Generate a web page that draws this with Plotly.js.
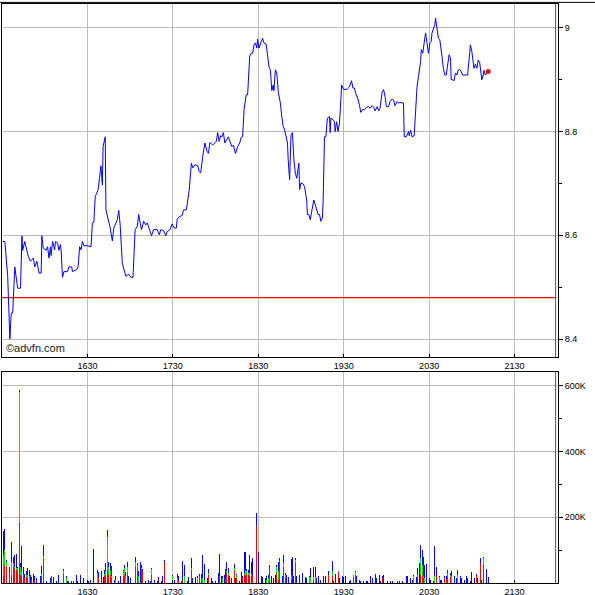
<!DOCTYPE html>
<html>
<head>
<meta charset="utf-8">
<script src="https://cdn.plot.ly/plotly-3.0.1.min.js"></script>
<style>
  html, body { margin: 0; padding: 0; background: #fff; }
  #chart { width: 595px; height: 595px; }
</style>
</head>
<body>
<div id="chart"></div>
<script>
// Intraday session: trades from the 15:30 open, times given as minutes after the open.
const sessionDay = '2000-01-03';
const sessionOpen = '15:30';
const sessionLengthMinutes = 390.5;

// Price path (minutes after open, price)
const priceMinutes = [
  0.5,2,4,5.5,6.5,7.5,9,11,13,14,
  14.5,16,18.5,20,22,23,24.5,26,27.5,28,
  29,31,32,33,34,34.5,35.5,37,37.5,39,
  40,41,41.5,42.5,43.5,46,47,49,49.5,52.5,
  53.5,54.5,55.5,56.5,57.5,60,62.5,63.5,64.5,65.5,
  66.5,67.5,69.5,70.5,71,72.5,73,75,76,77.5,
  78.5,80,81,82,83,84.5,86,87,89,90.5,
  92,93,93.5,95,96,97,98,99.5,101,102,
  103.5,105,106.5,109,110.5,111.5,113.5,115,116,118,
  119.5,121,122.5,123,124.5,126.5,127.5,129.5,130.5,131.5,
  133,134,135.5,137.5,138.5,139.5,141,142.5,144,145,
  146,148,150.5,151.5,152.5,153.5,154.5,155.5,156.5,158,
  159,160.5,161.5,162.5,164,165.5,167,168,169,170,
  171.5,172.5,174,175,176,177,178,179,179.5,180.5,
  182,183,184,185.5,186.5,187.5,188.5,189.5,190.5,191,
  192,193,194,195.5,196.5,197.5,198.5,199.5,200.5,201,
  202,203,204,205,206,207,208.5,209,210,211.5,
  212.5,214,214.5,215.5,216.5,217.5,219,220,221,222,
  223,224,225,225.5,226.5,227.5,228.5,230,230.5,231,
  232.5,233.5,234,235,236,237,238,238.5,240,242.5,
  244,245.5,246.5,247.5,249,249.5,251,252,253.5,254.5,
  256,257.5,258.5,260,261,262,263.5,264.5,265.5,267,
  268,269,270,271.5,272.5,274,275,276,277.5,278.5,
  279.5,282,282.5,284,285.5,286,287,288,289.5,290.5,
  291.5,292.5,294,294.5,295.5,296.5,297.5,298.5,299.5,300.5,
  301.5,302,303,304,304.5,305.5,306.5,307.5,308.5,309,
  310,311,312,313,314,315,315.5,316.5,317.5,318.5,
  319.5,320.5,321.5,322.5,323.5,327,328,329,330,331,
  331.5,332.5,333.5,334.5,335.5,336.5,337,338,338.5,339.5,
  340.5,341.5
];
const prices = [
  8.588,8.588,8.521,8.400,8.450,8.450,8.539,8.498,8.498,8.599,
  8.571,8.588,8.559,8.550,8.556,8.539,8.550,8.527,8.527,8.599,
  8.575,8.571,8.578,8.556,8.578,8.561,8.588,8.572,8.588,8.586,
  8.571,8.582,8.572,8.519,8.530,8.530,8.539,8.539,8.530,8.534,
  8.540,8.578,8.572,8.588,8.580,8.580,8.578,8.624,8.625,8.675,
  8.681,8.688,8.734,8.697,8.771,8.790,8.649,8.627,8.614,8.589,
  8.614,8.624,8.630,8.648,8.620,8.546,8.530,8.521,8.525,8.519,
  8.519,8.566,8.611,8.617,8.640,8.624,8.611,8.627,8.620,8.624,
  8.611,8.599,8.611,8.611,8.601,8.611,8.609,8.599,8.607,8.611,
  8.622,8.614,8.614,8.631,8.636,8.638,8.649,8.649,8.668,8.688,
  8.739,8.730,8.736,8.734,8.723,8.720,8.752,8.778,8.762,8.758,
  8.779,8.774,8.781,8.798,8.781,8.792,8.790,8.798,8.778,8.785,
  8.790,8.778,8.771,8.774,8.758,8.771,8.778,8.789,8.790,8.842,
  8.871,8.871,8.946,8.951,8.951,8.967,8.971,8.961,8.978,8.961,
  8.974,8.980,8.971,8.969,8.948,8.925,8.919,8.879,8.890,8.879,
  8.919,8.913,8.877,8.855,8.829,8.810,8.803,8.787,8.778,8.746,
  8.707,8.794,8.798,8.746,8.720,8.710,8.739,8.688,8.701,8.699,
  8.694,8.668,8.640,8.640,8.630,8.646,8.668,8.659,8.649,8.640,
  8.640,8.627,8.633,8.662,8.790,8.790,8.826,8.829,8.798,8.826,
  8.823,8.819,8.800,8.819,8.800,8.816,8.861,8.890,8.881,8.882,
  8.886,8.898,8.884,8.884,8.868,8.868,8.852,8.837,8.843,8.842,
  8.847,8.848,8.845,8.850,8.847,8.840,8.848,8.840,8.845,8.877,
  8.881,8.868,8.848,8.848,8.858,8.863,8.861,8.850,8.858,8.855,
  8.856,8.855,8.790,8.790,8.800,8.792,8.803,8.790,8.792,8.836,
  8.887,8.906,8.935,8.958,8.951,8.971,8.990,8.971,8.951,8.971,
  8.974,8.990,8.999,9.006,9.019,8.999,8.980,8.977,8.961,8.945,
  8.922,8.909,8.909,8.925,8.948,8.942,8.900,8.900,8.898,8.913,
  8.909,8.919,8.920,8.916,8.909,8.909,8.938,8.967,8.954,8.935,
  8.922,8.930,8.922,8.938,8.933,8.911,8.900,8.909,8.918,8.909,
  8.914,8.916
];
const previousClose = 8.48;

// Volume per minute, in thousands of shares, split into three trade groups
const volumeMinutes = [
  1,2,3,5,7,8,9,10,11,12, 13,14,15,16,17,18,19,20,21,22,
  23,24,26,27,28,29,31,33,34,35, 36,38,40,43,45,46,47,49,50,52,
  53,55,57,59,61,62,64,66,67,68, 70,71,72,73,74,75,76,77,79,80,
  82,83,85,86,87,88,89,90,92,94, 95,96,97,98,99,101,103,104,105,107,
  109,110,112,113,114,
  118,120,121,123,124,126,127,128,130,131, 133,134,136,137,139,140,141,142,144,145,
  147,148,150,152,153,154,155,156,157,158, 159,160,161,163,164,165,167,168,169,170,
  171,172,173,174,175,176,177,179,180,182, 183,184,185,186,187,188,189,191,192,193,
  194,195,197,198,199,200,201,203,204,205, 206,207,209,210,211,213,214,216,217,219,
  220,221,222,224,226,227,229,
  232,233,234,236,237,239,240,241,243,244, 245,247,248,249,251,252,254,256,257,259,
  260,262,263,265,266,267,268,269,271,273, 274,276,278,279,281,284,285,287,288,289,
  291,292,293,294,295,296,297,298,300,301, 303,304,305,307,308,309,311,312,313,315,
  316,318,319,320,322,323,325,326,327,329, 330,332,333,334,336,337,338,340,342
];
const volumeRed = [
  20,55,50,30,25,50,45,40,40,187, 25,20,20,15,17,15,0,0,10,0,
  10,0,0,0,20,75,0,10,0,20, 0,0,0,27,0,0,0,0,0,0,
  0,0,0,0,0,0,0,10,0,15, 0,0,20,25,40,25,25,15,0,0,
  0,0,20,25,0,30,0,0,15,50, 50,0,0,40,35,0,0,0,25,0,
  0,0,0,0,65,
  0,10,0,0,7,0,10,0,0,0, 40,0,0,0,20,15,0,0,0,25,
  0,0,0,0,20,0,0,0,15,30, 25,0,0,40,0,15,0,0,15,25,
  20,27,25,20,22,20,0,172,0,0, 0,0,0,0,0,50,0,0,0,30,
  10,70,0,50,17,0,0,10,0,0, 60,0,0,0,0,0,0,0,0,10,
  0,0,0,0,0,0,25,
  20,0,0,33,0,0,0,0,0,0, 0,17,25,0,0,0,0,0,0,0,
  0,0,0,0,0,15,0,0,0,0, 0,0,0,0,0,0,0,0,0,0,
  0,20,0,25,20,15,0,0,0,0, 0,0,25,0,0,0,15,10,25,17,
  0,0,0,0,0,0,0,0,0,0, 0,0,20,0,60,0,55,0,0
];
const volumeGreen = [
  65,45,15,0,40,10,5,5,5,393, 25,15,5,0,6,10,20,0,0,0,
  0,0,17,0,7,7,0,0,0,0, 0,0,0,10,15,0,0,0,0,0,
  0,0,0,0,0,0,0,30,30,0, 0,0,7,10,100,25,15,5,0,10,
  0,0,15,20,20,20,0,0,5,15, 5,20,0,7,0,0,0,0,18,0,
  0,0,0,0,0,
  0,10,0,15,0,0,0,20,0,0, 5,0,0,15,0,0,15,10,0,5,
  0,0,0,0,0,0,15,0,0,7, 5,0,0,5,0,10,0,0,0,5,
  20,10,5,10,5,0,0,2,0,0, 0,0,0,10,15,0,0,0,0,20,
  25,0,0,10,8,0,0,15,0,0, 10,0,0,0,0,0,0,17,17,7,
  17,0,0,0,0,0,0,
  15,0,0,2,0,0,0,0,0,0, 0,6,8,0,0,0,0,0,0,0,
  0,0,0,0,0,0,0,0,0,0, 0,10,0,0,0,0,0,0,0,20,
  0,5,0,50,35,5,15,0,0,0, 0,20,0,17,0,0,0,0,5,8,
  20,0,0,23,0,0,0,0,0,0, 0,0,0,0,0,0,20,0,0
];
const volumeBlue = [
  72,65,5,20,60,20,35,42,5,6, 10,77,25,13,12,20,20,25,7,27,
  10,15,10,20,25,33,7,25,15,2, 17,7,23,6,5,5,5,5,5,23,
  7,23,15,7,7,10,103,13,10,18, 37,17,13,25,21,15,20,33,10,10,
  7,20,5,10,13,15,20,15,27,15, 5,15,65,8,8,7,10,7,4,10,
  7,17,7,20,5,
  5,5,10,13,15,7,57,35,7,17, 32,15,17,7,7,12,70,47,15,13,
  15,7,7,30,67,20,5,25,28,26, 17,20,15,12,15,2,7,33,5,63,
  53,6,10,55,38,55,27,40,95,20, 17,20,15,10,10,5,20,15,25,5,
  30,5,20,25,5,25,17,48,80,20, 5,20,25,10,30,17,15,3,30,33,
  33,15,20,10,20,22,10,
  32,7,27,0,15,20,17,20,40,7, 10,2,4,20,10,7,7,7,7,20,
  15,27,15,25,7,5,25,27,7,7, 7,5,7,7,7,20,20,15,10,5,
  17,22,60,42,45,60,40,57,15,10, 7,93,25,3,10,10,5,10,10,5,
  17,20,15,17,20,15,10,20,15,7, 33,15,7,15,16,10,5,43,17
];

// Volume axis labels
const volumeTickValues = [200000, 400000, 600000];
const volumeTickLabels = ['200K', '400K', '600K'];

// Convert "minutes after the open" into a timestamp string for the date axis
const openMs = Date.parse(sessionDay + 'T' + sessionOpen + ':00Z');
function clock(minutes) {
  return new Date(openMs + minutes * 60000).toISOString().slice(0, 19).replace('T', ' ');
}

const priceTimes = priceMinutes.map(clock);
const volumeTimes = volumeMinutes.map(clock);
const thousands = arr => arr.map(v => v * 1000);
const lastIndex = prices.length - 1;

const BAR_WIDTH_MS = 40000;
// previous-close rule stops at the inner right frame line
const closeLineEnd = 388.6;

const traces = [
  {
    type: 'scatter', mode: 'lines',
    x: [clock(0), clock(closeLineEnd)], y: [previousClose, previousClose],
    xaxis: 'x', yaxis: 'y',
    line: { color: '#ff0000', width: 1.2 }, hoverinfo: 'skip'
  },
  {
    type: 'scatter', mode: 'lines', x: priceTimes, y: prices,
    xaxis: 'x', yaxis: 'y',
    line: { color: '#0000ff', width: 1 }, hoverinfo: 'skip'
  },
  {
    type: 'scatter', mode: 'markers',
    x: [priceTimes[lastIndex]], y: [prices[lastIndex]],
    xaxis: 'x', yaxis: 'y',
    marker: { color: '#ff0000', size: 5 }, hoverinfo: 'skip'
  },
  {
    type: 'bar', x: volumeTimes, y: thousands(volumeRed), width: BAR_WIDTH_MS,
    xaxis: 'x2', yaxis: 'y2', marker: { color: '#ff0000', line: { width: 0 } }, hoverinfo: 'skip'
  },
  {
    type: 'bar', x: volumeTimes, y: thousands(volumeGreen), width: BAR_WIDTH_MS,
    xaxis: 'x2', yaxis: 'y2', marker: { color: '#00e000', line: { width: 0 } }, hoverinfo: 'skip'
  },
  {
    type: 'bar', x: volumeTimes, y: thousands(volumeBlue), width: BAR_WIDTH_MS,
    xaxis: 'x2', yaxis: 'y2', marker: { color: '#0000ff', line: { width: 0 } }, hoverinfo: 'skip'
  }
];

const tickFont = { family: '"Liberation Sans", Arial, sans-serif', size: 9, color: '#000' };
const GRID = '#b8bdbd';

const timeAxis = (anchor) => ({
  type: 'date', anchor: anchor,
  range: [clock(0), clock(sessionLengthMinutes)],
  tick0: clock(60), dtick: 3600000, tickformat: '%H%M',
  showgrid: true, gridcolor: GRID, gridwidth: 1,
  showline: true, linecolor: '#000', linewidth: 1, mirror: true,
  ticks: 'inside', ticklen: 3, tickcolor: '#000', tickwidth: 1,
  tickfont: tickFont, zeroline: false, fixedrange: true
});

// Right-hand inner frame line position (paper units)
const innerRight = 0.9957;

const layout = {
  width: 595, height: 595,
  margin: { l: 2, r: 37, t: 4, b: 12, pad: 0 },
  paper_bgcolor: '#fff', plot_bgcolor: '#fff',
  showlegend: false, barmode: 'stack', bargap: 0,
  font: tickFont,
  xaxis: Object.assign(timeAxis('y'), { domain: [0, 1] }),
  xaxis2: Object.assign(timeAxis('y2'), { domain: [0, 1] }),
  yaxis: {
    domain: [0.39, 1], anchor: 'x', side: 'right',
    range: [8.365, 9.046], tick0: 8.4, dtick: 0.2,
    showgrid: true, gridcolor: GRID, gridwidth: 1,
    showline: true, linecolor: '#000', linewidth: 1, mirror: true,
    ticks: 'outside', ticklen: 4, tickcolor: '#000',
    minor: { dtick: 0.1, ticks: 'outside', ticklen: 3, tickcolor: '#000', showgrid: false },
    tickfont: tickFont, zeroline: false, fixedrange: true
  },
  yaxis2: {
    domain: [0, 0.365], anchor: 'x2', side: 'right',
    range: [0, 643000], tickmode: 'array',
    tickvals: volumeTickValues, ticktext: volumeTickLabels,
    showgrid: true, gridcolor: GRID, gridwidth: 1,
    showline: true, linecolor: '#000', linewidth: 1, mirror: true,
    ticks: 'outside', ticklen: 4, tickcolor: '#000',
    minor: { tickmode: 'array', tickvals: [100000, 300000, 500000], ticks: 'outside', ticklen: 3, tickcolor: '#000', showgrid: false },
    tickfont: tickFont, zeroline: false, fixedrange: true
  },
  shapes: [
    // inner right frame lines
    { type: 'line', xref: 'paper', yref: 'paper', x0: innerRight, x1: innerRight, y0: 0.39, y1: 1,
      line: { color: '#555', width: 1 } },
    { type: 'line', xref: 'paper', yref: 'paper', x0: innerRight, x1: innerRight, y0: 0, y1: 0.365,
      line: { color: '#555', width: 1 } },
    // outer top rule across the full width
    { type: 'line', xref: 'paper', yref: 'paper', x0: -0.004, x1: 1.07, y0: 1.0028, y1: 1.0028,
      line: { color: '#000', width: 1 } }
  ],
  annotations: [
    { text: '\u00a9advfn.com', xref: 'paper', yref: 'paper', x: 0.003, y: 0.4055,
      xanchor: 'left', yanchor: 'middle', showarrow: false,
      font: { family: '"Liberation Sans", Arial, sans-serif', size: 11, color: '#222' } }
  ]
};

Plotly.newPlot('chart', traces, layout, { staticPlot: true, displayModeBar: false });
</script>
</body>
</html>
